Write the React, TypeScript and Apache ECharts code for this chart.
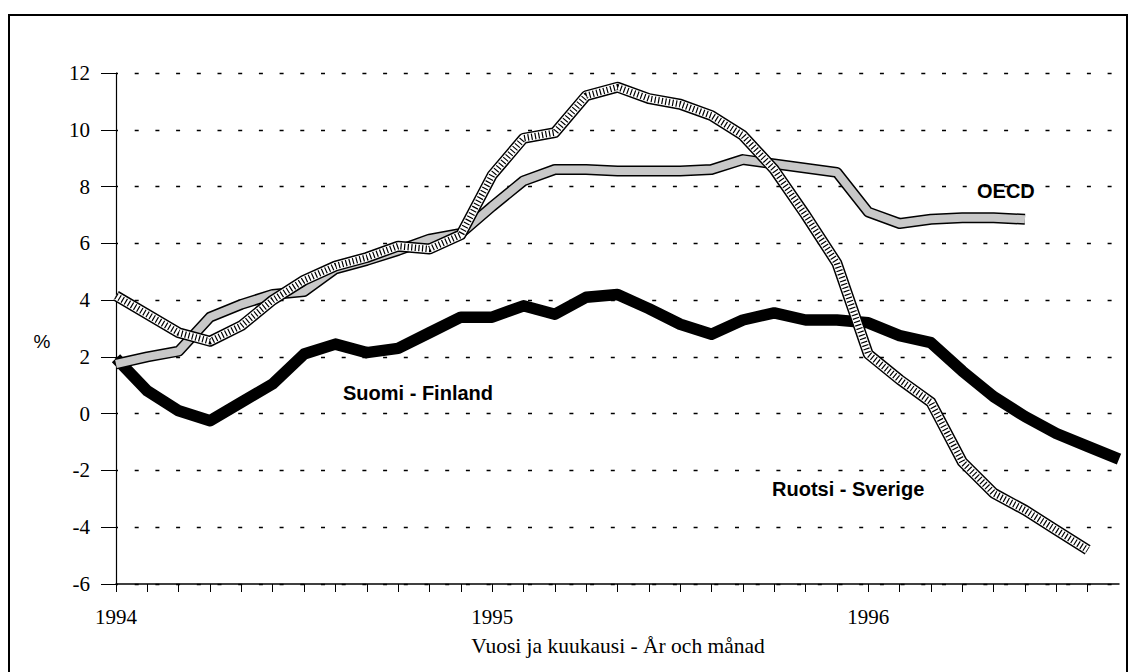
import { useEffect, useRef } from "react";
import * as echarts from "echarts";

// Month index 0 = January 1994
const yearLabels = ["1994", "1995", "1996"];
const yTickMin = -6;
const yTickMax = 12;
const yTickStep = 2;

const finland = [
  1.95, 0.8, 0.1, -0.25, 0.4, 1.05, 2.1, 2.45, 2.15, 2.3, 2.85, 3.4, 3.4, 3.8, 3.5, 4.1, 4.2,
  3.7, 3.15, 2.8, 3.3, 3.55, 3.3, 3.3, 3.2, 2.75, 2.5, 1.5, 0.6, -0.1, -0.7, -1.15, -1.6,
];
const sweden = [
  4.15, 3.5, 2.85, 2.55, 3.1, 4.0, 4.7, 5.2, 5.5, 5.9, 5.8, 6.3, 8.4, 9.7, 9.9, 11.2, 11.5,
  11.1, 10.9, 10.5, 9.8, 8.6, 7.0, 5.3, 2.1, 1.2, 0.4, -1.7, -2.8, -3.4, -4.1, -4.8,
];
const oecd = [
  1.75, 2.0, 2.2, 3.4, 3.85, 4.2, 4.3, 5.1, 5.4, 5.75, 6.15, 6.35, 7.3, 8.2, 8.6, 8.6, 8.55,
  8.55, 8.55, 8.6, 8.95, 8.8, 8.65, 8.5, 7.1, 6.7, 6.85, 6.9, 6.9, 6.85,
];

const seriesLabels = ["Suomi - Finland", "Ruotsi - Sverige", "OECD"];
const xTitle = "Vuosi ja kuukausi - År och månad";
const yTitle = "%";

export default function App() {
  const ref = useRef<HTMLDivElement>(null);
  useEffect(() => {
    const chart = echarts.init(ref.current!, null, { renderer: "svg" });
    const pts = (arr: number[]) => arr.map((v, i) => [i, v]);
    const line = (
      name: string,
      data: number[],
      color: string,
      width: number,
      z: number,
      type: any = "solid"
    ) => ({
      type: "line",
      name,
      data: pts(data),
      showSymbol: false,
      symbol: "none",
      silent: true,
      z,
      lineStyle: { color, width, type, cap: "butt", join: "round" },
    });

    const serif = "Liberation Serif";
    const sans = "Liberation Sans";

    chart.setOption({
      animation: false,
      grid: { left: 116, right: 13, top: 73, bottom: 88 },
      xAxis: {
        type: "value",
        min: 0,
        max: 32,
        interval: 1,
        axisLine: { onZero: false, lineStyle: { color: "#000", width: 1.5 } },
        axisTick: { show: true, length: 8, lineStyle: { color: "#000", width: 1 } },
        axisLabel: {
          margin: 22,
          color: "#000",
          fontFamily: serif,
          fontSize: 21,
          showMaxLabel: false,
          formatter: (v: number) => (v % 12 === 0 ? yearLabels[v / 12] ?? "" : ""),
        },
        splitLine: { show: false },
      },
      yAxis: {
        type: "value",
        min: yTickMin,
        max: yTickMax,
        interval: yTickStep,
        axisLine: { show: true, onZero: false, lineStyle: { color: "#000", width: 1.2 } },
        axisTick: { show: true, length: 15, lineStyle: { color: "#000", width: 1 } },
        axisLabel: {
          margin: 26,
          color: "#000",
          fontFamily: serif,
          fontSize: 21,
        },
        splitLine: {
          show: true,
          lineStyle: { color: "#000", width: 1.3, type: [4, 16.7], dashOffset: 1.7 },
        },
      },
      series: [
        line("Finland", finland, "#000", 11.5, 2),
        line("OECD-edge", oecd, "#000", 11, 3),
        line("OECD", oecd, "#c8c8c8", 8, 4),
        line("Sweden-edge", sweden, "#000", 11, 5),
        line("Sweden", sweden, "#fff", 8, 6),
        line("Sweden-hatch", sweden, "#000", 6.5, 7, [1.2, 2.4]),
      ],
      graphic: [
        {
          type: "rect",
          silent: true,
          z: -10,
          shape: { x: 9, y: 15, width: 1118, height: 700 },
          style: { fill: "none", stroke: "#000", lineWidth: 2 },
        },
        {
          type: "text",
          x: 343,
          y: 393,
          style: {
            text: seriesLabels[0],
            font: `bold 20px ${sans}`,
            fill: "#000",
            textAlign: "left",
            textVerticalAlign: "middle",
          },
        },
        {
          type: "text",
          x: 772,
          y: 489,
          style: {
            text: seriesLabels[1],
            font: `bold 20px ${sans}`,
            fill: "#000",
            textAlign: "left",
            textVerticalAlign: "middle",
          },
        },
        {
          type: "text",
          x: 977,
          y: 191,
          style: {
            text: seriesLabels[2],
            font: `bold 20px ${sans}`,
            fill: "#000",
            textAlign: "left",
            textVerticalAlign: "middle",
          },
        },
        {
          type: "text",
          x: 618,
          y: 646,
          style: {
            text: xTitle,
            font: `21.5px ${serif}`,
            fill: "#000",
            textAlign: "center",
            textVerticalAlign: "middle",
          },
        },
        {
          type: "text",
          x: 42,
          y: 341,
          style: {
            text: yTitle,
            font: `19px ${sans}`,
            fill: "#000",
            textAlign: "center",
            textVerticalAlign: "middle",
          },
        },
      ],
    });
    return () => chart.dispose();
  }, []);
  return (
    <div
      ref={ref}
      style={{ position: "fixed", left: 0, top: 0, width: 1132, height: 672, background: "#fff" }}
    />
  );
}
